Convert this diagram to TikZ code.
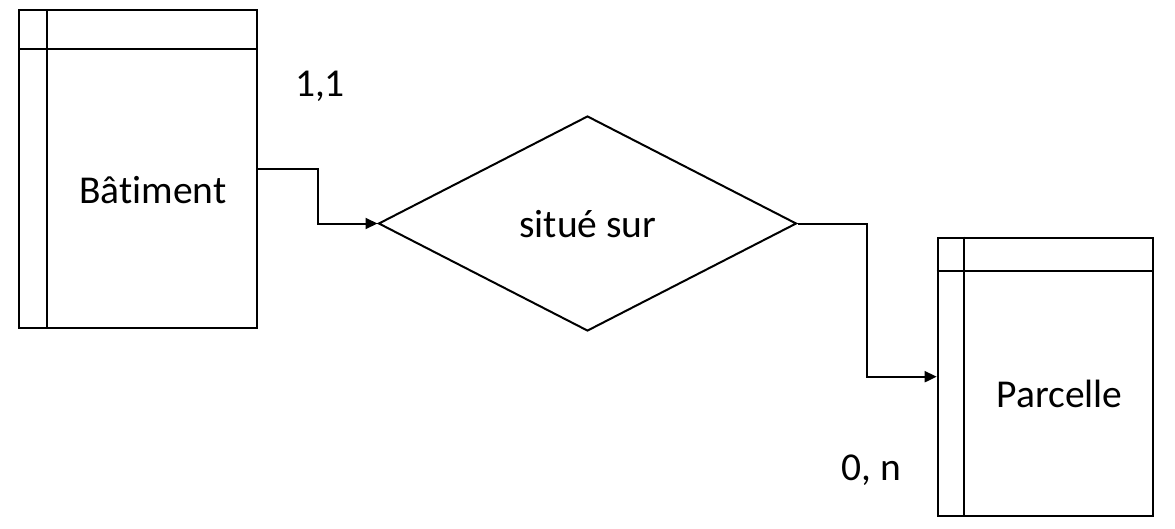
\documentclass[tikz,border=0pt]{standalone}
\usepackage{fontspec}
\setmainfont{Carlito}[Ligatures={NoCommon}]
\usetikzlibrary{shapes.geometric,arrows.meta,calc}
\begin{document}
\begin{tikzpicture}[x=1pt,y=-1pt,
  line width=2pt,
  entity/.style={draw, rectangle, inner sep=0pt, line width=2pt},
  assoc/.style={draw, diamond, inner sep=0pt, line width=2pt},
  txt/.style={anchor=base, inner sep=0pt, font=\fontsize{39.5}{47}\selectfont},
  link/.style={-{Triangle[length=12pt,width=11pt]}, line width=2pt}
]
\useasboundingbox[fill=white] (0,0) rectangle (1175,528);
% Batiment
\node[entity, minimum width=238pt, minimum height=318pt] (bat) at (138,169) {};
\draw ($(bat.north west)+(29,0)$) -- ($(bat.south west)+(29,0)$);
\draw ($(bat.north west)+(0,40)$) -- ($(bat.north east)+(0,40)$);
\node[txt] (tbat) at (153,203) {Bâtiment};
% association
\node[assoc, minimum width=418pt, minimum height=215pt] (rel) at (587.5,223.5) {};
\node[txt] (trel) at (588,237) {situé sur};
% Parcelle
\node[entity, minimum width=215pt, minimum height=278pt] (par) at (1045.2,376.7) {};
\draw ($(par.north west)+(27,0)$) -- ($(par.south west)+(27,0)$);
\draw ($(par.north west)+(0,34)$) -- ($(par.north east)+(0,34)$);
\node[txt] (tpar) at (1059.5,407) {Parcelle};
% cardinalities
\node[txt] (c1) at (320,96.7) {1,1};
\node[txt] (c2) at (871,480) {0, n};
% connectors
\draw[link] (bat.east) -| ($(bat.east)!.5!(rel.west)$) |- (rel.west);
\draw[link] (rel.east) -| ($(rel.east)!.5!(par.west)$) |- (par.west);
\end{tikzpicture}
\end{document}
